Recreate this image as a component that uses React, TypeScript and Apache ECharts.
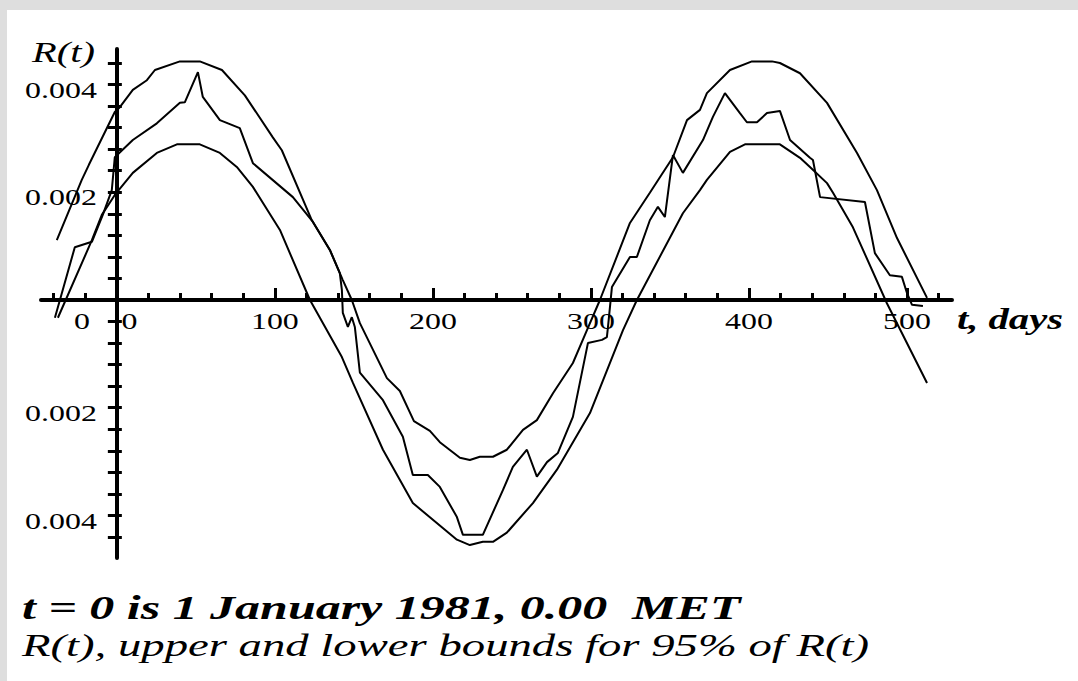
import React, { useEffect, useRef } from "react";
import * as echarts from "echarts";

const W = 1078;
const H = 681;

// Upper 95% bound: t (days), value (×10⁻³)
const upperT = [-38, -22.2, -17.7, -1.3, 1.9, 10.1, 19, 24.1, 39.9, 52.5, 66.5, 81, 98.7, 104.4, 123.4, 134.8, 143, 148.7, 153.8, 170.9, 179.1, 188, 198.1, 204.4, 217.1, 223.4, 229.7, 238, 246.8, 257, 265.8, 276, 288.6, 297.5, 305.7, 324.7, 337.3, 351.9, 360.8, 369, 373.4, 388, 401.9, 414.6, 419.6, 432.3, 449.4, 468.4, 481, 493.7, 512.7];
const upperV = [1.11, 2.23, 2.51, 3.49, 3.58, 3.9, 4.08, 4.27, 4.43, 4.43, 4.27, 3.8, 3.02, 2.78, 1.48, 0.93, 0.37, 0, -0.43, -1.45, -1.69, -2.25, -2.43, -2.64, -2.93, -2.97, -2.91, -2.91, -2.78, -2.41, -2.23, -1.73, -1.17, -0.56, 0, 1.43, 1.99, 2.65, 3.34, 3.53, 3.84, 4.27, 4.43, 4.43, 4.4, 4.21, 3.66, 2.73, 2.04, 1.15, 0.04];

// R(t)
const rT = [-39.2, -26.6, -15.8, -8.9, -3.2, -1.3, 10.1, 25.3, 39.9, 43, 51.3, 54.4, 65.2, 77.8, 86.1, 111.4, 124.1, 134.8, 141.1, 142.4, 143, 146.2, 148.7, 150.6, 153.8, 168.4, 181, 187.3, 196.8, 204.4, 215.2, 219, 231.6, 244.3, 250.6, 259.5, 265.8, 272.2, 279.1, 288.6, 298.1, 307, 310.1, 310.8, 313.3, 324.7, 329.1, 337.3, 342.4, 346.8, 351.9, 358.2, 370.9, 377.2, 384.8, 394.3, 398.7, 405.1, 411.4, 419.6, 426, 438.6, 440.5, 445, 473.4, 479.7, 489.2, 496.8, 500, 503.2, 510.1];
const rV = [-0.33, 0.98, 1.08, 1.58, 2.04, 2.65, 2.97, 3.28, 3.66, 3.67, 4.23, 3.77, 3.34, 3.19, 2.54, 1.91, 1.45, 0.93, 0.5, 0.19, -0.24, -0.5, -0.32, -0.5, -1.35, -1.86, -2.54, -3.25, -3.25, -3.47, -4.03, -4.36, -4.36, -3.53, -3.1, -2.78, -3.28, -3.01, -2.84, -2.17, -0.8, -0.74, -0.69, -0.5, 0.24, 0.8, 0.8, 1.48, 1.73, 1.54, 2.69, 2.36, 2.97, 3.4, 3.84, 3.47, 3.3, 3.3, 3.47, 3.51, 2.97, 2.64, 2.6, 1.91, 1.82, 0.87, 0.46, 0.43, 0.13, -0.09, -0.11];

// Lower 95% bound
const lowerT = [-37.3, -15.8, -9.5, -1.3, 10.1, 25.3, 38, 52.5, 65.2, 75.9, 86.1, 103.2, 122.2, 142.4, 149.4, 168.4, 187.3, 215.2, 223.4, 231.6, 238, 246.8, 263.3, 278.5, 299.4, 320.3, 329.1, 358.2, 369, 373.4, 388, 397.5, 419.6, 432.3, 438.6, 449.4, 453.2, 465.8, 487.3, 512.7];
const lowerV = [-0.33, 1.11, 1.58, 1.95, 2.36, 2.73, 2.89, 2.89, 2.73, 2.47, 2.1, 1.3, 0, -1.06, -1.54, -2.78, -3.77, -4.45, -4.55, -4.49, -4.49, -4.32, -3.77, -3.15, -2.1, -0.56, 0, 1.61, 2.04, 2.23, 2.75, 2.89, 2.89, 2.64, 2.47, 2.17, 1.99, 1.35, -0.06, -1.54];

// Tick labels
const xLabelAt = [-22, 8, 100, 200, 300, 400, 500];
const xLabelText = ["0", "0", "100", "200", "300", "400", "500"];
const yLabelAt = [4, 2, -2, -4]; // ×10⁻³
const yLabelText = ["0.004", "0.002", "0.002", "0.004"];

const yTitle = "R(t)";
const xTitle = "t, days";
const note1 = "t = 0 is 1 January 1981, 0.00  MET";
const note2 = "R(t), upper and lower bounds for 95% of R(t)";

// Layout
const AX_LEFT = 41;
const AX_RIGHT = 952;
const AY_TOP = 49;
const AY_BOTTOM = 558;
const T_MIN = -48;
const T_MAX = 528.5;
const V_MIN = -4.79;
const V_MAX = 4.66;
const sx = (AX_RIGHT - AX_LEFT) / (T_MAX - T_MIN);
const sy = (AY_BOTTOM - AY_TOP) / (V_MAX - V_MIN);
const px = (t: number) => AX_LEFT + (t - T_MIN) * sx;
const py = (v: number) => AY_TOP + (V_MAX - v) * sy;

const SERIF = "Liberation Serif, serif";

const zip = (a: number[], b: number[]) => a.map((t, i) => [t, b[i]]);

function textEl(
  text: string,
  x: number,
  y: number,
  fontSize: number,
  stretch: number,
  fontStyle: string,
  fontWeight: string,
  align: string
) {
  return {
    type: "text",
    x,
    y,
    scaleX: stretch,
    silent: true,
    z: 10,
    style: {
      text,
      fill: "#000",
      fontFamily: SERIF,
      fontSize,
      fontStyle,
      fontWeight,
      align,
      textAlign: align,
      verticalAlign: "middle",
      textVerticalAlign: "middle",
    },
  };
}

export default function App() {
  const ref = useRef<HTMLDivElement>(null);

  useEffect(() => {
    document.body.style.margin = "0";
    if (!ref.current) return;
    const chart = echarts.init(ref.current, null, { renderer: "svg", width: W, height: H });

    const hidden = { type: "value", min: 0, max: 1, show: false };
    const lineSeries = (name: string, data: number[][]) => ({
      name,
      type: "line",
      xAxisIndex: 0,
      yAxisIndex: 0,
      data,
      symbol: "none",
      showSymbol: false,
      silent: true,
      z: 5,
      lineStyle: { color: "#000", width: 2 },
      itemStyle: { color: "#000" },
    });

    chart.setOption({
      animation: false,
      backgroundColor: "transparent",
      grid: [
        { left: AX_LEFT, right: W - AX_RIGHT, top: AY_TOP, bottom: H - AY_BOTTOM },
        { left: px(-40), right: W - px(520), top: 100, bottom: H - py(0) },
        { left: px(0), right: W - px(500), top: 100, bottom: H - py(0) },
        { left: px(0), right: 100, top: py(4.4), bottom: H - py(-4.4) },
      ],
      xAxis: [
        {
          gridIndex: 0,
          type: "value",
          min: T_MIN,
          max: T_MAX,
          axisLine: { show: true, onZero: true, lineStyle: { color: "#000", width: 4 } },
          axisTick: { show: false },
          axisLabel: { show: false },
          splitLine: { show: false },
        },
        {
          gridIndex: 1,
          type: "value",
          position: "bottom",
          min: -40,
          max: 520,
          interval: 20,
          axisLine: { show: false },
          axisTick: { show: true, inside: true, length: 7, lineStyle: { color: "#000", width: 3 } },
          axisLabel: { show: false },
          splitLine: { show: false },
        },
        {
          gridIndex: 2,
          type: "value",
          position: "bottom",
          min: 0,
          max: 500,
          interval: 100,
          axisLine: { show: false },
          axisTick: { show: true, inside: true, length: 12, lineStyle: { color: "#000", width: 3 } },
          axisLabel: { show: false },
          splitLine: { show: false },
        },
        { ...hidden, gridIndex: 3 },
      ],
      yAxis: [
        {
          gridIndex: 0,
          type: "value",
          min: V_MIN,
          max: V_MAX,
          axisLine: { show: true, onZero: true, lineStyle: { color: "#000", width: 4 } },
          axisTick: { show: false },
          axisLabel: { show: false },
          splitLine: { show: false },
        },
        { ...hidden, gridIndex: 1 },
        { ...hidden, gridIndex: 2 },
        {
          gridIndex: 3,
          type: "value",
          position: "left",
          offset: 0,
          min: -4.4,
          max: 4.4,
          interval: 0.4,
          axisLine: { show: false, onZero: false },
          axisTick: { show: true, inside: false, length: 9, lineStyle: { color: "#000", width: 3 } },
          axisLabel: { show: false },
          splitLine: { show: false },
        },
        {
          gridIndex: 3,
          type: "value",
          position: "left",
          offset: 0,
          min: -4.4,
          max: 4.4,
          interval: 0.4,
          axisLine: { show: false, onZero: false },
          axisTick: { show: true, inside: true, length: 5, lineStyle: { color: "#000", width: 3 } },
          axisLabel: { show: false },
          splitLine: { show: false },
        },
      ],
      series: [
        lineSeries("upper", zip(upperT, upperV)),
        lineSeries("R(t)", zip(rT, rV)),
        lineSeries("lower", zip(lowerT, lowerV)),
      ],
    });

    const xp = (t: number) => chart.convertToPixel({ xAxisIndex: 0 } as any, t) as number;
    const yp = (v: number) => chart.convertToPixel({ yAxisIndex: 0 } as any, v) as number;
    const x0 = xp(0);
    const y0 = yp(0);

    const graphics: any[] = [];
    xLabelAt.forEach((t, i) => {
      graphics.push(textEl(xLabelText[i], xp(t), y0 + 20.5, 24, 1.33, "normal", "normal", "center"));
    });
    yLabelAt.forEach((v, i) => {
      graphics.push(textEl(yLabelText[i], x0 - 20, yp(v) + 5, 24, 1.33, "normal", "normal", "right"));
    });
    graphics.push(textEl(yTitle, 32, 52, 30, 1.35, "italic", "normal", "left"));
    graphics.push(textEl(xTitle, 957, y0 + 20, 29, 1.4, "italic", "bold", "left"));
    graphics.push(textEl(note1, 22, 607, 34, 1.47, "italic", "bold", "left"));
    graphics.push(textEl(note2, 22, 645, 32, 1.46, "italic", "normal", "left"));

    chart.setOption({ graphic: graphics });

    return () => chart.dispose();
  }, []);

  return (
    <div style={{ position: "fixed", left: 0, top: 0, width: W, height: H, background: "#dedede" }}>
      <div style={{ position: "absolute", left: 7, top: 10, right: 0, bottom: 0, background: "#fff" }} />
      <div ref={ref} style={{ position: "absolute", left: 0, top: 0, width: W, height: H }} />
    </div>
  );
}
